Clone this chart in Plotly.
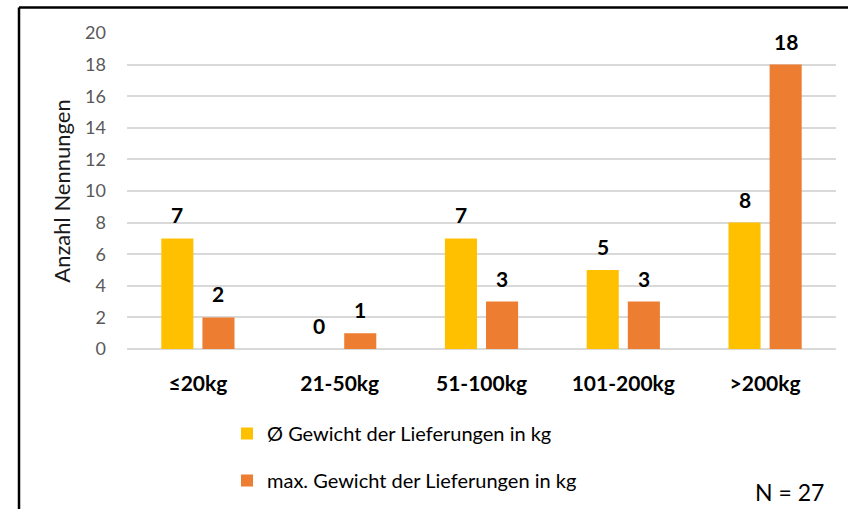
import plotly.graph_objects as go

# Daten
kategorien = ['≤20kg', '21-50kg', '51-100kg', '101-200kg', '>200kg']
avg_gewicht = [7, 0, 7, 5, 8]
max_gewicht = [2, 1, 3, 3, 18]
serien = ['Ø Gewicht der Lieferungen in kg', 'max. Gewicht der Lieferungen in kg']
farben = ['#FFC000', '#ED7D31']
y_ticks = [0, 2, 4, 6, 8, 10, 12, 14, 16, 18, 20]

FONT = 'Lato'
W, H = 848, 509
L, R, T, B = 127, 12, 33, 160

fig = go.Figure()
for i, (name, vals) in enumerate(zip(serien, [avg_gewicht, max_gewicht])):
    fig.add_trace(go.Bar(
        x=kategorien, y=vals, name=name,
        marker=dict(color=farben[i], line=dict(width=0)),
        legendgroup=str(i),
    ))

# Datenbeschriftungen
for i, vals in enumerate([avg_gewicht, max_gewicht]):
    for k, v in zip(kategorien, vals):
        fig.add_annotation(
            x=k, y=v, text='<b>%d</b>' % v, showarrow=False,
            xshift=-20.5 if i == 0 else 20.5, yshift=9, yanchor='bottom',
            font=dict(family=FONT, size=21, color='black'),
        )

# Rahmen (oben und links sichtbar)
pw, ph = W - L - R, H - T - B
def px_x(p):
    return (p - L) / pw
def px_y(p):
    return (H - B - p) / ph

fig.add_shape(type='line', xref='paper', yref='paper',
              x0=px_x(19), x1=px_x(860), y0=px_y(7.5), y1=px_y(7.5),
              line=dict(color='black', width=2.5))
fig.add_shape(type='line', xref='paper', yref='paper',
              x0=px_x(19), x1=px_x(19), y0=px_y(7.5), y1=px_y(520),
              line=dict(color='black', width=2.5))

fig.add_annotation(
    text='N = 27', xref='paper', yref='paper', showarrow=False,
    x=px_x(789), y=px_y(492), xanchor='center', yanchor='middle',
    font=dict(family=FONT, size=23, color='black'),
)

fig.update_layout(
    width=W, height=H,
    margin=dict(l=L, r=R, t=T, b=B, autoexpand=False),
    plot_bgcolor='white', paper_bgcolor='white',
    barmode='group', bargap=0.42, bargroupgap=0.22,
    font=dict(family=FONT, size=18, color='#404040'),
    showlegend=True,
    legend=dict(
        orientation='v', traceorder='grouped', tracegroupgap=18,
        x=px_x(227), y=px_y(414), xanchor='left', yanchor='top',
        font=dict(family=FONT, size=20, color='black'),
        bgcolor='rgba(0,0,0,0)',
    ),
    xaxis=dict(
        showgrid=False, showline=False,
        tickfont=dict(family=FONT, size=21, color='black', weight='bold'),
        ticklabelstandoff=20,
    ),
    yaxis=dict(
        range=[0, 20], tickvals=y_ticks,
        showgrid=True, gridcolor='#D9D9D9', gridwidth=1.5,
        zeroline=True, zerolinecolor='#D9D9D9', zerolinewidth=1.5,
        showline=False,
        tickfont=dict(family=FONT, size=18, color='#595959'),
        ticklabelstandoff=20,
        title=dict(text='Anzahl Nennungen', font=dict(family=FONT, size=22, color='#1a1a1a'), standoff=8),
    ),
)

fig.write_html('out.html', config={'displayModeBar': False},
               post_script="document.body.style.margin='0px';")
